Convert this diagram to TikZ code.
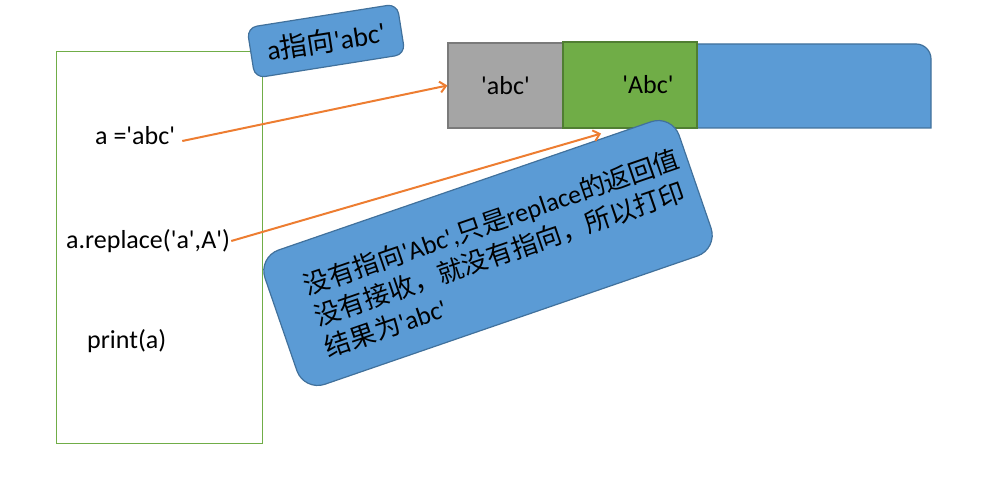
\documentclass[tikz,border=0pt]{standalone}
\usepackage{fontspec}
\setmainfont{Carlito}
\newfontfamily\cjk{Noto Sans CJK SC}
\usetikzlibrary{arrows.meta}
\newcommand\q{\textquotesingle}
\definecolor{obl}{HTML}{5B9BD5}
\definecolor{obd}{HTML}{41719C}
\definecolor{ogr}{HTML}{70AD47}
\definecolor{ogd}{HTML}{507E32}
\definecolor{ogy}{HTML}{A5A5A5}
\definecolor{ogyd}{HTML}{7A7A7A}
\definecolor{oor}{HTML}{ED7D31}
\begin{document}
\begin{tikzpicture}[x=1pt,y=-1pt,
  txt/.style={font=\fontsize{26}{32.7}\selectfont, inner sep=0pt},
  codebox/.style={draw=ogr, line width=0.8pt, minimum width=206pt, minimum height=392pt, inner sep=0pt},
  cell/.style={line width=1.2pt, inner sep=0pt, font=\fontsize{26}{31}\selectfont},
  callout/.style={draw=obd, fill=obl, line width=1.2pt, inner sep=0pt},
  arr/.style={draw=oor, line width=2pt, -{Straight Barb[length=6pt,width=11pt]}}]
\useasboundingbox (0,0) rectangle (981,478);
% code box
\node[codebox] (code) at (159,247) {};
\node[txt, anchor=base west] (l1) at (95,145) {a =\q abc\q};
\node[txt, anchor=base west] (l2) at (66,248) {a.replace(\q a\q,A\q)};
\node[txt, anchor=base west] (l3) at (87,348) {print(a)};
% memory bar
\filldraw[fill=obl, draw=obd, line width=1.2pt] (448,128) -- (448,44) -- (916,44)
  arc[start angle=90, end angle=0, radius=15pt] -- (931,128) -- cycle;
\node[cell, draw=ogyd, fill=ogy, minimum width=115pt, minimum height=85pt] (abc) at (505.5,85.5) {\q abc\q};
\node[cell, draw=ogd, fill=ogr, minimum width=134pt, minimum height=86pt] (Abc) at (630,85) {\hspace*{36pt}\q Abc\q};
% callouts
\node[callout, rotate=9, minimum width=152pt, minimum height=51pt, rounded corners=10pt,
  font=\fontsize{27.5}{31}\selectfont] (c1) at (326,41) {a{\cjk 指向}\q abc\q};
\node[callout, rotate=19, minimum width=438pt, minimum height=142pt, rounded corners=22pt] (c2) at (488,253) {};
\node[txt, rotate=19, align=left] (t2) at (502,253)
  {{\cjk 没有指向}\q Abc\q,{\cjk 只是}replace{\cjk 的返回值}\\
   {\cjk 没有接收，就没有指向，所以打印}\\
   {\cjk 结果为}\q abc\q};
% arrows
\draw[arr] ([shift={(7,-4)}]l1.base east) -- (abc.west);
\draw[arr] ([shift={(1,-7)}]l2.base east) -- ([shift={(-29,5)}]Abc.south);
\end{tikzpicture}
\end{document}
